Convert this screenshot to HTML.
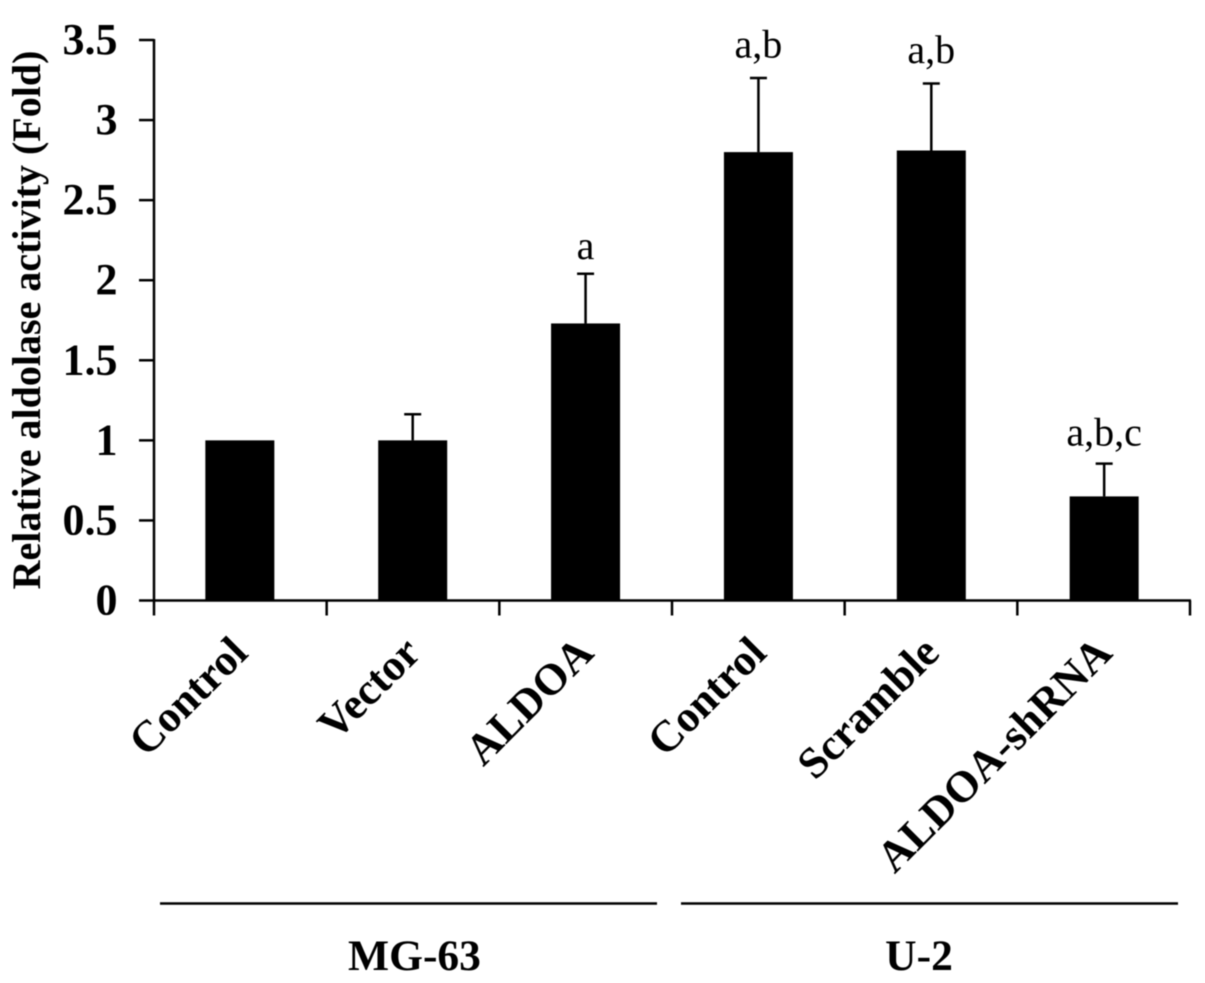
<!DOCTYPE html>
<html>
<head>
<meta charset="utf-8">
<style>
html,body{margin:0;padding:0;background:#fff;}
svg{display:block;filter:blur(0.4px);}
text{font-family:"Liberation Serif",serif;fill:#000;}
</style>
</head>
<body>
<svg id="chart" width="1205" height="983" viewBox="0 0 1205 983" xmlns="http://www.w3.org/2000/svg">
<rect width="1205" height="983" fill="#fff"/>
<g id="layer"></g>
</svg>
<script>
const categories = ["Control","Vector","ALDOA","Control","Scramble","ALDOA-shRNA"];
const values = [1.0,1.0,1.73,2.80,2.81,0.65];
const errors = [0,0.163,0.31,0.463,0.418,0.205];
const annotations = ["","","a","a,b","a,b","a,b,c"];
const tickLabels = ["0","0.5","1","1.5","2","2.5","3","3.5"];
const tickValues = [0,0.5,1,1.5,2,2.5,3,3.5];
const groups = ["MG-63","U-2"];

const NS = "http://www.w3.org/2000/svg";
const layer = document.getElementById("layer");
const x0 = 154, x1 = 1190, y0 = 600.5, yTop = 40;
const yMax = 3.5;
function yScale(v){ return y0 - (v / yMax) * (y0 - yTop); }
function xBand(i){ return x0 + (x1 - x0) * i / categories.length; }
function xCenter(i){ return xBand(i + 0.5) - 0.5 + i * 0.2; }
function annotationGap(text){ return text.length === 1 ? 15 : (text.length === 3 ? 20.5 : 18); }
function mk(tag, attrs, text){
  const el = document.createElementNS(NS, tag);
  for (const k in attrs) el.setAttribute(k, attrs[k]);
  if (text !== undefined) el.textContent = text;
  layer.appendChild(el);
  return el;
}
const stroke = {stroke:"#000","stroke-width":2.5};

categories.forEach((c,i)=>{
  const cx = xCenter(i), w = 69;
  const top = yScale(values[i]);
  const bar = mk("rect",{x:cx-w/2,y:top,width:w,height:y0-top,fill:"#000"});
  
  
  if (errors[i] > 0) {
    const et = yScale(values[i] + errors[i]);
    const eb = mk("line",{x1:cx,x2:cx,y1:top,y2:et,...stroke});
    
    
    const cap = mk("line",{x1:cx-8.5,x2:cx+8.5,y1:et,y2:et,...stroke});
    
    
    if (annotations[i]) {
      const an = mk("text",{x:cx,y:et-annotationGap(annotations[i]),"text-anchor":"middle","font-size":40},annotations[i]);
      
      
    }
  }
  const lx = cx + 10, ly = 655;
  const lab = mk("text",{x:lx,y:ly,"text-anchor":"end","font-size":44,"font-weight":"bold",
    transform:"rotate(-45 "+lx+" "+ly+")"},c);
  
  
});

const yAxis = mk("line",{x1:x0,x2:x0,y1:yTop-1,y2:y0+1,...stroke});


const xAxis = mk("line",{x1:x0-1,x2:x1+1,y1:y0,y2:y0,...stroke});



tickValues.forEach((v,i)=>{
  const y = yScale(v);
  const t = mk("line",{x1:x0-15,x2:x0,y1:y,y2:y,...stroke});
  
  
  const l = mk("text",{x:x0-36.5,y:y+14,"text-anchor":"end","font-size":44,"font-weight":"bold"},tickLabels[i]);
  
  
});
for (let i=0;i<=categories.length;i++){
  const x = xBand(i);
  const t = mk("line",{x1:x,x2:x,y1:y0,y2:y0+15,...stroke});
  
  
}

const yTitle = mk("text",{x:0,y:0,"text-anchor":"middle","font-size":40,"font-weight":"bold",
  transform:"translate(40 320) rotate(-90)"},"Relative aldolase activity (Fold)");



const rule1 = mk("line",{x1:160,x2:657,y1:903.5,y2:903.5,...stroke});


const rule2 = mk("line",{x1:681,x2:1178,y1:903.5,y2:903.5,...stroke});


const g1 = mk("text",{x:414.5,y:970,"text-anchor":"middle","font-size":43.5,"font-weight":"bold"},groups[0]);


const g2 = mk("text",{x:919,y:970,"text-anchor":"middle","font-size":43.5,"font-weight":"bold"},groups[1]);


</script>
</body>
</html>
